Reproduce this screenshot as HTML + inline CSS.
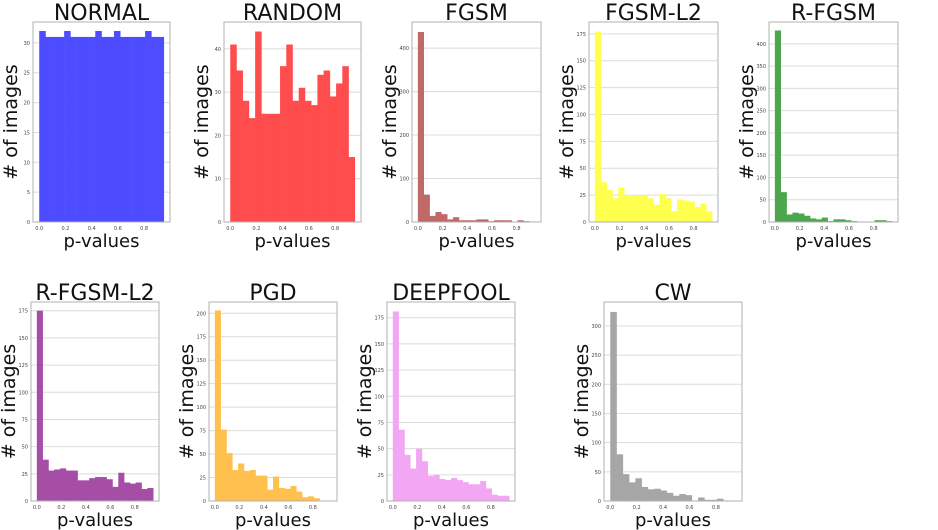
<!DOCTYPE html>
<html><head><meta charset="utf-8"><style>
body{margin:0;background:#fff;}
svg{display:block;font-family:"DejaVu Sans","Liberation Sans",sans-serif;}
</style></head><body>
<svg id="c" width="938" height="530"></svg>
<script>
const titles=["NORMAL","RANDOM","FGSM","FGSM-L2","R-FGSM","R-FGSM-L2","PGD","DEEPFOOL","CW"];
const normalVals=[32,31,31,31,32,31,31,31,31,32,31,31,32,31,31,31,31,32,31,31];
const randomVals=[41,35,28,24,44,25,25,25,36,41,28,31,28,27,34,35,29,32,36,15];
const fgsmVals=[437,63,14,23,18,6,11,4,4,4,6,6,2,4,4,4,0,4,2,0];
const fgsmL2Vals=[177,37,30,22,32,25,25,25,25,22,16,26,22,10,21,20,19,14,17,10];
const rfgsmVals=[430,67,17,21,19,14,8,6,10,2,6,6,4,2,0,0,0,4,4,2];
const rfgsmL2Vals=[175,38,28,29,30,28,28,19,19,21,22,22,20,13,26,17,16,17,11,12];
const pgdVals=[203,76,51,33,40,32,33,27,27,12,26,14,13,16,10,4,5,3,0,0];
const deepfoolVals=[181,68,44,31,50,38,24,25,21,20,22,20,18,16,16,19,12,6,5,5];
const cwVals=[324,80,46,32,39,24,20,21,18,14,9,12,10,0,6,2,2,4,1,0];
const yMaxes=[33.5,46.2,460,186,449,183,212,190,341];
const yTickSteps=[5,10,100,25,50,25,25,25,50];
const xTickLabels=["0.0","0.2","0.4","0.6","0.8"];
const xTickVals=[0,0.2,0.4,0.6,0.8];
const series=[normalVals,randomVals,fgsmVals,fgsmL2Vals,rfgsmVals,rfgsmL2Vals,pgdVals,deepfoolVals,cwVals];
const colors=["#4d4dff","#ff4d4d","#c06969","#ffff4d","#4da64d","#a64da6","#ffc04d","#f3a7f3","#a6a6a6"];
const frames=[[33,22,170,222],[224,22,361,222],[412,22,541,222],[589,22,718,222],[769,22,898,222],
[31,302,159,501],[209,302,337,501],[387,302,515,501],[604,302,742,501]];
const binW=0.0475, xmin=-0.0475, xmax=0.9975;
const NS="http://www.w3.org/2000/svg";
const svg=document.getElementById('c');
function mk(tag,attrs,parent){const e=document.createElementNS(NS,tag);for(const k in attrs)e.setAttribute(k,attrs[k]);(parent||svg).appendChild(e);return e;}
titles.forEach((t,i)=>{
  const [L,T,R,B]=frames[i];
  const xs=v=>L+(v-xmin)/(xmax-xmin)*(R-L);
  const ys=v=>B-v/yMaxes[i]*(B-T);
  const g=mk('g',{});
  
  
  for(let v=0;v<=yMaxes[i];v+=yTickSteps[i]){
    const y=ys(v);
    const gl=mk('line',{x1:L,x2:R,y1:y,y2:y,stroke:'#dcdcdc','stroke-width':1},g);
    
    
    const tl=mk('text',{x:L-3,y:y+2,'font-size':5,'text-anchor':'end',fill:'#444'},g);
    tl.textContent=v;
    
    
  }
  series[i].forEach((v,j)=>{
    if(v<=0)return;
    const x0=xs(j*binW),x1=xs((j+1)*binW);
    const r=mk('rect',{x:x0,y:ys(v),width:x1-x0+0.3,height:B-ys(v),fill:colors[i]},g);
    
    
  });
  const fr=mk('rect',{x:L,y:T,width:R-L,height:B-T,fill:'none',stroke:'#b0b0b0','stroke-width':1},g);
  
  
  xTickVals.forEach((v,k)=>{
    const tx=mk('text',{x:xs(v),y:B+8,'font-size':5,'text-anchor':'middle',fill:'#444'},g);
    tx.textContent=xTickLabels[k];
    
    
  });
  const tt=mk('text',{x:(L+R)/2,y:T-2,'font-size':22,'text-anchor':'middle',fill:'#111'},g);
  tt.textContent=t;
  
  
  const xl=mk('text',{x:(L+R)/2,y:B+25,'font-size':18,'text-anchor':'middle',fill:'#111'},g);
  xl.textContent='p-values';
  
  
  const cy=(T+B)/2, cx=L-16;
  const yl=mk('text',{x:cx,y:cy,'font-size':19,'text-anchor':'middle',fill:'#111',transform:`rotate(-90 ${cx} ${cy})`},g);
  yl.textContent='# of images';
  
  
});
</script>
</body></html>
